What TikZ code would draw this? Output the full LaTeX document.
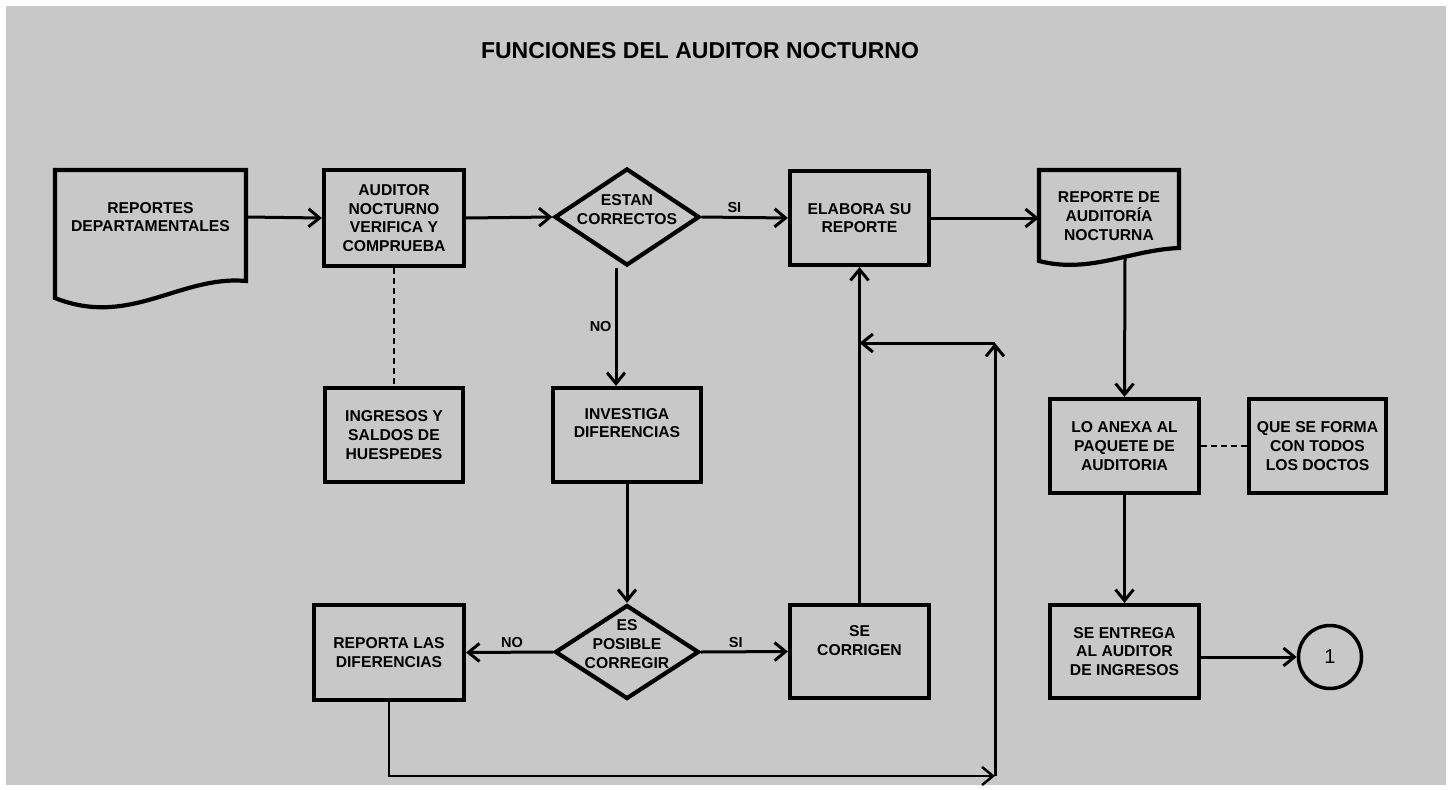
\documentclass[tikz,border=0pt]{standalone}
\usepackage{fontspec}
\setmainfont{Liberation Sans}
\usepackage{tikz}
\usetikzlibrary{shapes.geometric, arrows.meta, positioning, calc}

\begin{document}
\begin{tikzpicture}[x=1pt, y=-1pt,
    boxtext/.style={font=\bfseries\fontsize{15.7}{18.7}\selectfont, align=center, inner sep=0pt},
    procbox/.style={draw, line width=4.2pt, boxtext},
    decision/.style={draw, diamond, line width=4.2pt, line join=miter, inner sep=0pt},
    docline/.style={line width=4.2pt, line join=miter},
    flow/.style={line width=3pt, -{Straight Barb[length=11pt, width=18pt]}},
    link/.style={line width=2.6pt, dash pattern=on 6pt off 4pt},
    answer/.style={font=\bfseries\fontsize{14.5}{16}\selectfont, inner sep=3pt}
]
% Background panel
\definecolor{panel}{RGB}{200,200,200}
\useasboundingbox (0,0) rectangle (1452,790);
\fill[panel] (6,6) rectangle (1446,785);

% Title
\node[font=\bfseries\fontsize{23}{27}\selectfont] (title) at (700,51) {FUNCIONES DEL AUDITOR NOCTURNO};

% Documents (wavy bottom)
\draw[docline] (55,170) -- (246,170) -- (246,281) .. controls (180,275) and (130,328) .. (55,298) -- cycle;
\node[boxtext, minimum width=191pt] (dep) at (150.5,217) {REPORTES\\DEPARTAMENTALES};
\draw[docline] (1039,170) -- (1179,170) -- (1179,248) .. controls (1130,250) and (1090,274) .. (1039,261) -- cycle;
\node[boxtext, minimum width=140pt] (aud) at (1109,216) {REPORTE DE\\AUDITORÍA\\NOCTURNA};
\coordinate (audbase) at (1125,258);

% Process boxes
\node[procbox, minimum width=140pt, minimum height=96pt] (verif) at (394,218) {AUDITOR\\NOCTURNO\\VERIFICA Y\\COMPRUEBA};
\node[procbox, minimum width=138pt, minimum height=94pt] (ingr) at (394,435) {INGRESOS Y\\SALDOS DE\\HUESPEDES};
\node[procbox, minimum width=148pt, minimum height=94pt] (inv) at (627,435) {};
\node[boxtext] (invtext) at ([yshift=12pt]inv.center) {INVESTIGA\\DIFERENCIAS};
\node[procbox, minimum width=150pt, minimum height=95pt] (rep) at (389,652.5) {REPORTA LAS\\DIFERENCIAS};
\node[procbox, minimum width=139pt, minimum height=93pt] (corr) at (859.5,651.5) {};
\node[boxtext] (corrtext) at ([yshift=11pt]corr.center) {SE\\CORRIGEN};
\node[procbox, minimum width=139pt, minimum height=94pt] (elab) at (859.5,218) {ELABORA SU\\REPORTE};
\node[procbox, minimum width=149pt, minimum height=94pt] (anexa) at (1124.5,446) {LO ANEXA AL\\PAQUETE DE\\AUDITORIA};
\node[procbox, minimum width=137pt, minimum height=94pt] (forma) at (1317.5,446) {QUE SE FORMA\\CON TODOS\\LOS DOCTOS};
\node[procbox, minimum width=149pt, minimum height=93pt] (entrega) at (1124.5,651.5) {SE ENTREGA\\AL AUDITOR\\DE INGRESOS};
\node[draw, circle, line width=3.5pt, minimum size=63pt, inner sep=0pt, font=\fontsize{20}{22}\selectfont] (conn) at (1330,657) {1};

% Decisions
\node[decision, minimum width=145pt, minimum height=97pt] (estan) at (627,217) {};
\node[boxtext] (estantext) at ([yshift=7.5pt]estan.center) {ESTAN\\CORRECTOS};
\node[decision, minimum width=144pt, minimum height=94pt] (posible) at (627,652) {};
\node[boxtext] (posibletext) at ([yshift=8pt]posible.center) {ES\\POSIBLE\\CORREGIR};

% Main flow
\draw[flow] (dep.east) -- (verif.west);
\draw[flow] (verif.east) -- (estan.west);
\draw[flow] (estan.east) -- node[answer, pos=0.38, above] (si1) {SI} (elab.west);
\draw[flow] ([xshift=-11pt]estan.south) -- node[answer, left] (no1) {NO} ([xshift=-11pt]inv.north);
\draw[flow] (inv.south) -- (posible.north);
\draw[flow] (posible.west) -- node[answer, pos=0.47, above] (no2) {NO} (rep.east);
\draw[flow] (posible.east) -- node[answer, pos=0.4, above] (si2) {SI} (corr.west);
\draw[flow] (corr.north) -- (elab.south);
\draw[flow] (elab.east) -- (elab.east -| aud.west);
\draw[flow] (audbase) -- (anexa.north);
\draw[flow] (anexa.south) -- (entrega.north);
\draw[flow] (entrega.east |- conn.west) -- (conn.west);

% Dashed links
\draw[link] (verif.south) -- (ingr.north);
\draw[link] (anexa.east) -- (forma.west);

% Return path from the report of differences
\coordinate (loopbot) at (995,776);
\coordinate (looptop) at (995,343);
\draw[flow, line width=2.5pt] (rep.south) |- (loopbot);
\draw[flow] (loopbot) -- (looptop);
\draw[flow] (looptop) -- (looptop -| corr.north);

\end{tikzpicture}
\end{document}
